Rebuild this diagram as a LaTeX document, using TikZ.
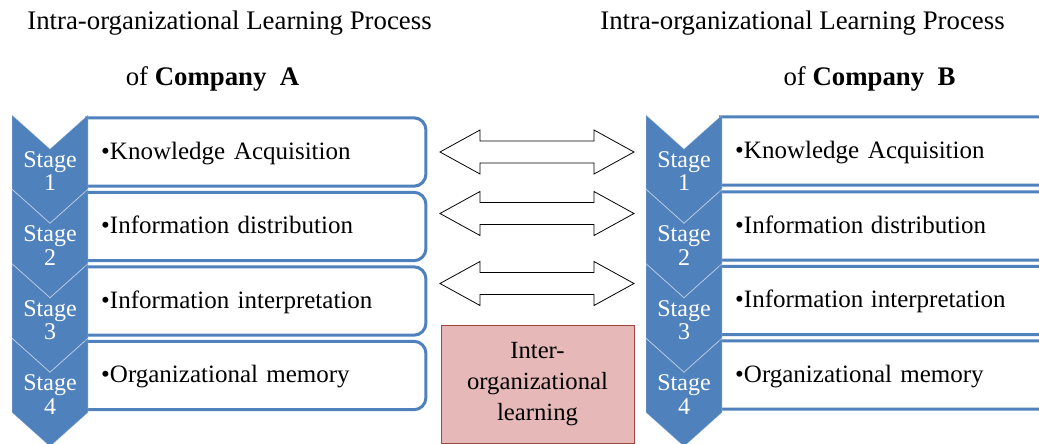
\documentclass[tikz,border=0pt]{standalone}
\usepackage{fontspec}
\setmainfont{Liberation Serif}
\usepackage{tikz}

\definecolor{stageblue}{HTML}{4F81BD}
\definecolor{interfill}{HTML}{E6B9B8}
\definecolor{interline}{HTML}{A0443F}

\begin{document}
\begin{tikzpicture}[x=1pt, y=-1pt,
      chev/.style={fill=stageblue, draw=white, draw opacity=0.25, line width=0.8},
      stagelbl/.style={text=white, align=center, inner sep=0pt, font=\fontsize{24}{23.5}\selectfont},
      % open on the left, the chevron closes it
      itembox/.style={anchor=west, minimum height=68, text width=311.5, inner xsep=13,
                      text height=19, text depth=5, align=left, font=\fontsize{25}{28}\selectfont,
                      append after command={\pgfextra{\draw[draw=stageblue, fill=white, line width=3, rounded corners=12]
                        ([xshift=-3]\tikzlastnode.north west) -- (\tikzlastnode.north east)
                        -- (\tikzlastnode.south east) -- ([xshift=-3]\tikzlastnode.south west);}}},
      headline/.style={font=\fontsize{26.8}{30}\selectfont, inner sep=0pt},
      linkarr/.style={draw=black, fill=white, line width=0.8, line join=miter},
      interbox/.style={draw=interline, fill=interfill, line width=1, minimum width=193, minimum height=118,
                       align=center, font=\fontsize{24.7}{31}\selectfont}]
    \useasboundingbox (0,0) rectangle (1039,444);

    % headings
    \node[headline] (headA) at (229.5,23) {Intra-organizational Learning Process};
    \node[headline] (subA) at (212.5,79) {of \textbf{Company\hspace{0.25em} A}};
    \node[headline] (headB) at (802.5,23) {Intra-organizational Learning Process};
    \node[headline] (subB) at (869.5,79) {of \textbf{Company\hspace{0.25em} B}};

    % company A: stage boxes, then chevrons over their left ends
    \node[itembox] (itemA1) at (88,152) {\textbullet Knowledge\hspace{0.35em}Acquisition};
    \node[itembox] (itemA2) at (88,226.5) {\textbullet Information distribution};
    \node[itembox] (itemA3) at (88,301) {\textbullet Information interpretation};
    \node[itembox] (itemA4) at (88,375.5) {\textbullet Organizational memory};
    \path[chev] (12,115) -- ++(38,34) -- ++(38,-34) -- ++(0,74) -- ++(-38,34) -- ++(-38,-34) -- cycle;
    \path[chev] (12,189.5) -- ++(38,34) -- ++(38,-34) -- ++(0,74) -- ++(-38,34) -- ++(-38,-34) -- cycle;
    \path[chev] (12,264) -- ++(38,34) -- ++(38,-34) -- ++(0,74) -- ++(-38,34) -- ++(-38,-34) -- cycle;
    \path[chev] (12,338.5) -- ++(38,34) -- ++(38,-34) -- ++(0,74) -- ++(-38,34) -- ++(-38,-34) -- cycle;
    \node[stagelbl] (stageA1) at (50,171) {Stage\\1};
    \node[stagelbl] (stageA2) at (50,245.5) {Stage\\2};
    \node[stagelbl] (stageA3) at (50,320) {Stage\\3};
    \node[stagelbl] (stageA4) at (50,394.5) {Stage\\4};

    % company B
    \node[itembox] (itemB1) at (722,151) {\textbullet Knowledge\hspace{0.35em}Acquisition};
    \node[itembox] (itemB2) at (722,226) {\textbullet Information\hspace{0.3em}distribution};
    \node[itembox] (itemB3) at (722,300.5) {\textbullet Information\hspace{0.3em}interpretation};
    \node[itembox] (itemB4) at (722,375) {\textbullet Organizational memory};
    \path[chev] (646,115) -- ++(38,34) -- ++(38,-34) -- ++(0,74) -- ++(-38,34) -- ++(-38,-34) -- cycle;
    \path[chev] (646,189.5) -- ++(38,34) -- ++(38,-34) -- ++(0,74) -- ++(-38,34) -- ++(-38,-34) -- cycle;
    \path[chev] (646,264) -- ++(38,34) -- ++(38,-34) -- ++(0,74) -- ++(-38,34) -- ++(-38,-34) -- cycle;
    \path[chev] (646,338.5) -- ++(38,34) -- ++(38,-34) -- ++(0,74) -- ++(-38,34) -- ++(-38,-34) -- cycle;
    \node[stagelbl] (stageB1) at (684,171) {Stage\\1};
    \node[stagelbl] (stageB2) at (684,245.5) {Stage\\2};
    \node[stagelbl] (stageB3) at (684,320) {Stage\\3};
    \node[stagelbl] (stageB4) at (684,394.5) {Stage\\4};

    % two-way block arrows between the companies
    \path[linkarr] (440,152) -- ++(40,-22) -- ++(0,11) -- ++(114,0) -- ++(0,-11) -- ++(40,22)
      -- ++(-40,22) -- ++(0,-11) -- ++(-114,0) -- ++(0,11) -- cycle;
    \path[linkarr] (440,213.5) -- ++(40,-22) -- ++(0,11) -- ++(114,0) -- ++(0,-11) -- ++(40,22)
      -- ++(-40,22) -- ++(0,-11) -- ++(-114,0) -- ++(0,11) -- cycle;
    \path[linkarr] (440,283.5) -- ++(40,-22) -- ++(0,11) -- ++(114,0) -- ++(0,-11) -- ++(40,22)
      -- ++(-40,22) -- ++(0,-11) -- ++(-114,0) -- ++(0,11) -- cycle;

    \node[interbox] (inter) at (537.5,384) {Inter-\\organizational\\learning};
  \end{tikzpicture}
\end{document}
